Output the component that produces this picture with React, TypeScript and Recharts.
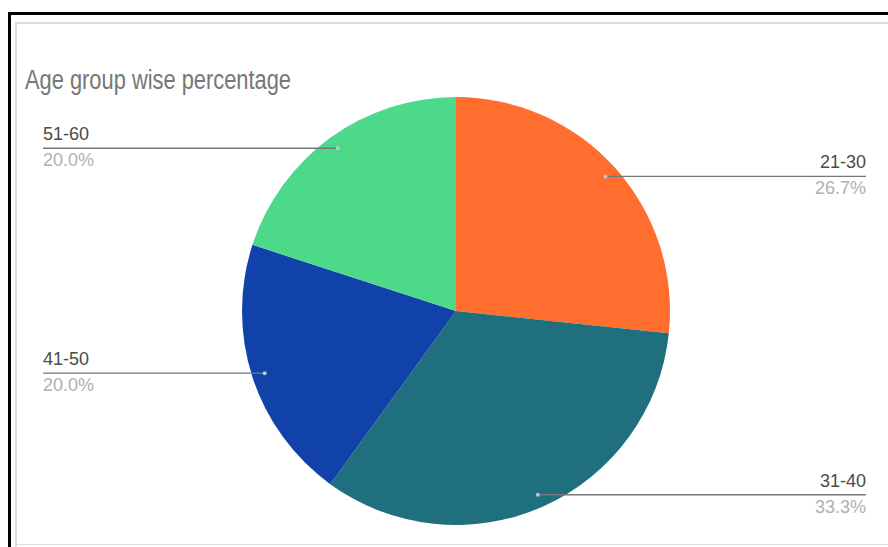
import { PieChart, Pie, Cell } from "recharts";

const groups = ["21-30", "31-40", "41-50", "51-60"];
const counts = [4, 5, 3, 3];
const colors = ["#FF6D2F", "#1F6F7F", "#1142A9", "#4CDA8A"];

const data = groups.map((g, i) => ({ name: g, value: counts[i] }));

const RAD = Math.PI / 180;

function renderLabel(props: any) {
  const { cx, cy, midAngle, outerRadius, percent, name } = props;
  const r = outerRadius * 0.94;
  const px = cx + r * Math.cos(-midAngle * RAD);
  const py = cy + r * Math.sin(-midAngle * RAD);
  const right = px > cx;
  const edge = right ? 866 : 43;
  return (
    <g>
      <line x1={px} y1={py} x2={edge} y2={py} stroke="#777" strokeWidth={1.3} />
      <circle cx={px} cy={py} r={2} fill="#b8c8d8" />
      <text
        x={edge}
        y={py - 8}
        textAnchor={right ? "end" : "start"}
        fill="#4a4a4a"
        fontSize={18}
        fontFamily="'Liberation Sans', Arial, sans-serif"
      >
        {name}
      </text>
      <text
        x={edge}
        y={py + 18}
        textAnchor={right ? "end" : "start"}
        fill="#b0b0b0"
        fontSize={18}
        fontFamily="'Liberation Sans', Arial, sans-serif"
      >
        {(percent * 100).toFixed(1)}%
      </text>
    </g>
  );
}

export default function App() {
  return (
    <div
      style={{
        position: "absolute",
        left: 0,
        top: 0,
        width: 888,
        height: 547,
        background: "#fff",
        overflow: "hidden",
        fontFamily: "'Liberation Sans', Arial, sans-serif",
      }}
    >
      {/* sheet frame */}
      <div style={{ position: "absolute", left: 8, top: 12, width: 880, height: 3, background: "#000" }} />
      <div style={{ position: "absolute", left: 8, top: 12, width: 3, height: 535, background: "#000" }} />
      <div style={{ position: "absolute", left: 15, top: 22, width: 873, height: 2, background: "#ddd" }} />
      <div style={{ position: "absolute", left: 15, top: 22, width: 2, height: 525, background: "#ddd" }} />
      <div style={{ position: "absolute", left: 15, top: 544, width: 873, height: 1, background: "#ddd" }} />

      <div style={{ position: "absolute", left: 0, top: 0 }}>
        <PieChart width={888} height={547}>
          <text x={25} y={89} fill="#777" fontSize={27} textLength={266} lengthAdjust="spacingAndGlyphs">
            Age group wise percentage
          </text>
          <Pie
            data={data}
            dataKey="value"
            nameKey="name"
            cx={451}
            cy={306}
            outerRadius={214}
            startAngle={90}
            endAngle={-270}
            stroke="none"
            label={renderLabel}
            labelLine={false}
            isAnimationActive={false}
          >
            {data.map((d, i) => (
              <Cell key={d.name} fill={colors[i]} />
            ))}
          </Pie>
        </PieChart>
      </div>
    </div>
  );
}
